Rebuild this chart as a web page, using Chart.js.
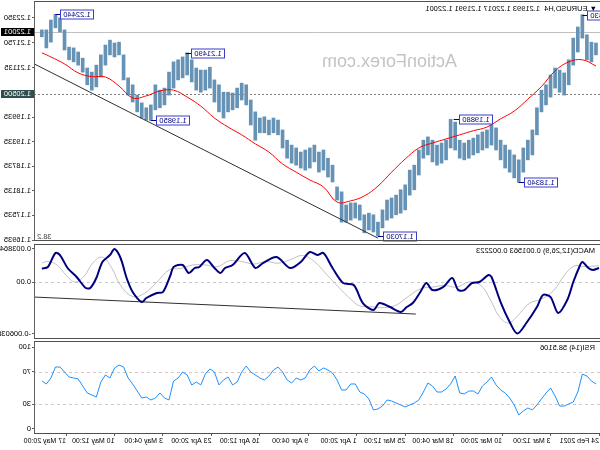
<!DOCTYPE html>
<html>
<head>
<meta charset="utf-8">
<script src="https://cdn.jsdelivr.net/npm/chart.js@4.4.1/dist/chart.umd.min.js"></script>
<style>
html, body { margin: 0; padding: 0; background: #fff; }
#wrap { position: relative; width: 600px; height: 450px; overflow: hidden; transform: scaleX(-1); background: #fff; }
#wrap canvas { position: absolute; left: 0; }
</style>
</head>
<body>
<div id="wrap">
  <canvas id="main" width="600" height="242" style="top:0px"></canvas>
  <canvas id="macd" width="600" height="97" style="top:242px"></canvas>
  <canvas id="rsi" width="600" height="111" style="top:339px"></canvas>
</div>
<script>
// time axis is counted in H4 bars from 24 Feb 2021 00:00
var tickBars = [0, 32, 64, 96, 128, 160, 192, 224, 256, 288, 320, 352];
var tickLabels = ["24 Feb 2021", "3 Mar 12:00", "10 Mar 20:00", "18 Mar 04:00", "25 Mar 12:00", "1 Apr 20:00",
    "9 Apr 04:00", "16 Apr 12:00", "23 Apr 20:00", "3 May 04:00", "10 May 12:00", "17 May 20:00"];

// EURUSD H4, one sample every 3rd bar starting at bar 2
var highs = [
    1.2174, 1.2176, 1.2194, 1.2243, 1.2213, 1.2186, 1.2133, 1.2101, 1.2108, 1.2113,
    1.2096, 1.2072, 1.2059, 1.2016, 1.1962, 1.1937, 1.1918, 1.1889, 1.1901, 1.1913,
    1.1925, 1.1937, 1.1967, 1.1974, 1.1962, 1.1957, 1.1950, 1.1942, 1.1937, 1.1930,
    1.1937, 1.1981, 1.1988, 1.1937, 1.1930, 1.1925, 1.1937, 1.1945, 1.1937, 1.1913,
    1.1876, 1.1864, 1.1828, 1.1816, 1.1803, 1.1796, 1.1791, 1.1767, 1.1737, 1.1755,
    1.1759, 1.1755, 1.1779, 1.1784, 1.1784, 1.1779, 1.1811, 1.1823, 1.1876, 1.1893,
    1.1913, 1.1908, 1.1925, 1.1918, 1.1913, 1.1908, 1.1918, 1.1925, 1.1937, 1.1962,
    1.1986, 1.1991, 1.1986, 1.1994, 1.1991, 1.2006, 1.2035, 1.2072, 1.2076, 1.2064,
    1.2052, 1.2054, 1.2054, 1.2072, 1.2084, 1.2115, 1.2108, 1.2108, 1.2113, 1.2133,
    1.2150, 1.2140, 1.2133, 1.2128, 1.2103, 1.2064, 1.2059, 1.2072, 1.2023, 1.2016,
    1.2028, 1.2047, 1.2072, 1.2089, 1.2145, 1.2176, 1.2174, 1.2181, 1.2169, 1.2145,
    1.2120, 1.2103, 1.2113, 1.2137, 1.2152, 1.2162, 1.2164, 1.2206, 1.2235, 1.2244,
    1.2230, 1.2206, 1.2206
];
var lows = [
    1.2145, 1.2128, 1.2133, 1.2186, 1.2152, 1.2120, 1.2072, 1.2047, 1.2054, 1.2064,
    1.2042, 1.2023, 1.2006, 1.1950, 1.1901, 1.1889, 1.1859, 1.1834, 1.1845, 1.1859,
    1.1869, 1.1889, 1.1913, 1.1925, 1.1918, 1.1913, 1.1906, 1.1901, 1.1893, 1.1889,
    1.1893, 1.1913, 1.1918, 1.1889, 1.1881, 1.1876, 1.1884, 1.1901, 1.1893, 1.1852,
    1.1816, 1.1803, 1.1767, 1.1759, 1.1755, 1.1747, 1.1742, 1.1723, 1.1703, 1.1713,
    1.1718, 1.1711, 1.1742, 1.1747, 1.1742, 1.1737, 1.1737, 1.1791, 1.1835, 1.1847,
    1.1864, 1.1859, 1.1884, 1.1869, 1.1864, 1.1869, 1.1876, 1.1881, 1.1893, 1.1918,
    1.1950, 1.1955, 1.1950, 1.1955, 1.1955, 1.1937, 1.1974, 1.2023, 1.2035, 1.2016,
    1.2011, 1.2006, 1.1991, 1.2006, 1.2030, 1.2064, 1.2059, 1.2054, 1.2059, 1.2079,
    1.2096, 1.2089, 1.2084, 1.2064, 1.2047, 1.2023, 1.2016, 1.2011, 1.1985, 1.1986,
    1.1991, 1.2006, 1.2030, 1.2047, 1.2084, 1.2145, 1.2140, 1.2145, 1.2120, 1.2091,
    1.2067, 1.2059, 1.2072, 1.2103, 1.2120, 1.2128, 1.2133, 1.2157, 1.2201, 1.2211,
    1.2176, 1.2162, 1.2189
];
var rsiValues = [
    54.9, 58.5, 64.6, 67.0, 45.1, 32.9, 30.5, 28.0, 28.0, 40.2,
    50.0, 43.9, 36.6, 29.3, 23.2, 25.6, 22.0, 17.1, 29.3, 37.8,
    43.9, 47.6, 53.7, 63.4, 57.3, 52.4, 42.7, 46.3, 46.3, 42.7,
    43.9, 64.6, 54.9, 48.8, 45.1, 45.1, 52.4, 56.1, 45.1, 35.4,
    31.7, 29.3, 26.8, 29.3, 31.7, 34.1, 35.4, 28.0, 24.4, 23.2,
    36.6, 42.7, 45.1, 54.9, 54.9, 47.6, 47.6, 59.8, 68.3, 72.0,
    74.4, 70.7, 76.8, 72.0, 62.2, 59.8, 62.2, 56.1, 59.8, 69.5,
    75.6, 72.0, 64.6, 59.8, 62.2, 65.9, 69.5, 76.8, 69.5, 57.3,
    53.7, 63.4, 59.8, 53.7, 69.5, 73.2, 67.1, 53.7, 57.3, 53.7,
    65.9, 69.5, 62.2, 58.5, 35.4, 37.8, 43.9, 37.8, 35.4, 39.0,
    37.8, 46.3, 54.9, 62.2, 75.6, 78.0, 74.4, 62.2, 65.9, 57.3,
    39.0, 41.5, 43.9, 52.4, 61.0, 62.2, 63.4, 69.5, 75.6, 75.6,
    62.2, 54.9, 58.5106
];

// red moving average, read at these bars
var maBars = [2, 11, 20, 29, 38, 47, 56, 65, 74, 83, 92, 101, 110, 119, 128, 137, 146, 155, 164, 173, 182,
    191, 200, 209, 218, 227, 236, 245, 254, 263, 272, 281, 290, 299, 308, 317, 326, 335, 344, 353, 362, 368];
var maValues = [1.2118, 1.2133, 1.2128, 1.2106, 1.2068, 1.2037, 1.2008, 1.1989, 1.1969, 1.1960, 1.1950,
    1.1940, 1.1930, 1.1918, 1.1891, 1.1859, 1.1825, 1.1801, 1.1789, 1.1786, 1.1823, 1.1840, 1.1859, 1.1879,
    1.1908, 1.1928, 1.1950, 1.1969, 1.1991, 1.2020, 1.2042, 1.2059, 1.2057, 1.2045, 1.2040, 1.2069, 1.2091,
    1.2092, 1.2101, 1.2123, 1.2140, 1.2150];

// MACD(12,26,9) main line
var macdBars = [0, 4, 7, 11, 13, 17, 21, 27, 32, 37, 41, 48, 54, 59, 65, 71, 73, 79, 84, 89, 93, 97, 103, 110,
    114, 118, 123, 127, 131, 138, 145, 149, 156, 162, 169, 176, 182, 186, 191, 197, 204, 213, 222, 227, 234,
    242, 247, 250, 254, 259, 264, 267, 271, 275, 281, 283, 288, 292, 299, 302, 308, 312, 316, 320, 323, 328,
    332, 336, 339, 345, 351, 356, 359, 364, 368];
var macdValues = [0.00164, 0.00141, 0.00164, 0.00234, 0.00176, 0.00000, -0.00211, -0.00363, -0.00176,
    -0.00152, -0.00293, -0.00480, -0.006038, -0.00468, -0.00234, 0.00059, 0.00082, 0.00000, -0.00012,
    -0.00094, -0.00094, 0.00047, -0.00059, -0.00094, -0.00012, -0.00117, -0.00246, -0.00293, -0.00351,
    -0.00293, -0.00246, -0.00328, -0.00246, -0.00035, -0.00012, 0.00164, 0.00340, 0.00316, 0.00351,
    0.00234, 0.00164, 0.00293, 0.00222, 0.00164, 0.00340, 0.00199, 0.00164, 0.00105, 0.00164, 0.00258,
    0.00176, 0.00164, 0.00105, 0.00199, 0.00176, 0.00082, -0.00117, -0.00129, -0.00187, -0.00234,
    -0.00117, 0.00047, 0.00281, 0.003864, 0.00316, 0.00234, 0.00047, -0.00070, -0.00070, 0.00059,
    0.00164, 0.00316, 0.00340, 0.00176, 0.001563];

// MACD signal line
var signalBars = [0, 10, 16, 22, 30, 38, 46, 54, 60, 66, 72, 78, 86, 94, 102, 110, 118, 126, 134, 142, 150,
    158, 164, 172, 180, 188, 196, 204, 212, 220, 228, 236, 244, 252, 260, 268, 276, 284, 292, 300, 308, 316,
    322, 328, 334, 340, 346, 352, 358, 364, 368];
var signalValues = [0.00190, 0.00180, 0.00190, 0.00100, -0.00100, -0.00200, -0.00250, -0.00400, -0.00480,
    -0.00400, -0.00200, -0.00040, 0.00000, -0.00060, -0.00040, -0.00060, -0.00080, -0.00170, -0.00270,
    -0.00300, -0.00290, -0.00280, -0.00200, -0.00060, 0.00090, 0.00240, 0.00310, 0.00260, 0.00220, 0.00240,
    0.00210, 0.00240, 0.00250, 0.00180, 0.00200, 0.00200, 0.00160, 0.00140, 0.00000, -0.00130, -0.00170,
    -0.00040, 0.00170, 0.00290, 0.00230, 0.00070, 0.00000, 0.00080, 0.00200, 0.00240, 0.002223];

// drawn trend lines [bar, value]
var priceTrend = [[146, 1.1698], [373, 1.2123]];
var macdTrend = [[121, -0.00375], [373, -0.00176]];

// swing high / low labels
var markBars = [11, 53, 96, 146, 273, 296, 359];
var markPrices = [1.2243, 1.1834, 1.1988, 1.1703, 1.2149, 1.1985, 1.2244];

var priceTicks = [1.22350, 1.21750, 1.21135, 1.19935, 1.19335, 1.18735, 1.18135, 1.17535, 1.16935];
var bidPrice = 1.22001;
var levelPrice = 1.20500;
var macdTicks = [0.003864, 0, -0.006038];
var rsiTicks = [100, 70, 30, 0];
var rsiLevels = [70, 30];

var FONT = '"Liberation Sans", Arial, sans-serif';
var xMin = -0.66, xMax = 372.5;

function pairs(xs, ys) {
    return xs.map(function (x, i) { return { x: x, y: ys[i] }; });
}
function sampleBar(i) { return 2 + 3 * i; }

function yAxis(min, max, ticks, fmt) {
    return {
        type: 'linear', position: 'right', min: min, max: max,
        afterBuildTicks: function (s) { s.ticks = ticks.map(function (v) { return { value: v }; }); },
        afterFit: function (s) { s.width = 35; s.paddingTop = 0; s.paddingBottom = 0; },
        grid: { drawOnChartArea: false, drawTicks: true, tickLength: 3, color: '#606060' },
        border: { display: true, color: '#606060' },
        ticks: { autoSkip: false, padding: 1, color: '#000', font: { family: FONT, size: 7.5 }, callback: fmt }
    };
}
function hiddenX() {
    return { type: 'linear', min: xMin, max: xMax, offset: false, display: false };
}
function baseOptions(pad, scales) {
    return {
        responsive: false, animation: false, events: [], devicePixelRatio: 1,
        layout: { padding: pad },
        scales: scales,
        plugins: { legend: { display: false }, tooltip: { enabled: false } }
    };
}

// panel top and bottom border
var frame = {
    id: 'frame',
    afterDraw: function (chart) {
        var ctx = chart.ctx, a = chart.chartArea;
        ctx.save();
        ctx.strokeStyle = '#505050';
        ctx.lineWidth = 1;
        ctx.beginPath();
        ctx.moveTo(0, a.top - 0.5); ctx.lineTo(a.right + 1, a.top - 0.5);
        ctx.moveTo(0, a.bottom + 0.5); ctx.lineTo(a.right + 1, a.bottom + 0.5);
        ctx.stroke();
        ctx.restore();
    }
};

function hline(ctx, a, y, color, dash) {
    ctx.strokeStyle = color;
    ctx.lineWidth = 1;
    ctx.setLineDash(dash);
    ctx.beginPath();
    ctx.moveTo(a.left, Math.round(y) + 0.5);
    ctx.lineTo(a.right, Math.round(y) + 0.5);
    ctx.stroke();
    ctx.setLineDash([]);
}

var mainDeco = {
    id: 'mainDeco',
    beforeDatasetsDraw: function (chart) {
        var ctx = chart.ctx, a = chart.chartArea, y = chart.scales.y;
        ctx.save();
        ctx.fillStyle = '#c4c4c4';
        ctx.font = '18px ' + FONT;
        ctx.textBaseline = 'middle';
        ctx.fillText('ActionForex.com', 143, 62);
        hline(ctx, a, y.getPixelForValue(bidPrice), '#c0c0c0', []);
        hline(ctx, a, y.getPixelForValue(levelPrice), '#808080', [2, 2]);
        ctx.restore();
    },
    afterDatasetsDraw: function (chart) {
        var ctx = chart.ctx, a = chart.chartArea, x = chart.scales.x, y = chart.scales.y;
        ctx.save();
        ctx.font = '7.5px ' + FONT;
        ctx.textBaseline = 'middle';
        markBars.forEach(function (b, i) {
            var px = x.getPixelForValue(b), py = Math.round(y.getPixelForValue(markPrices[i])) + 0.5;
            var txt = markPrices[i].toFixed(5);
            var w = Math.round(ctx.measureText(txt).width) + 6, h = 9;
            var bx = Math.round(px) - 6 - w + 0.5;
            ctx.strokeStyle = '#000080';
            ctx.beginPath();
            ctx.moveTo(px, py); ctx.lineTo(bx + w, py);
            ctx.stroke();
            ctx.fillStyle = '#fff';
            ctx.fillRect(bx, py - h / 2, w, h);
            ctx.strokeStyle = '#3c3cc8';
            ctx.strokeRect(bx, py - h / 2, w, h);
            ctx.fillStyle = '#000080';
            ctx.fillText(txt, bx + 3, py + 0.5);
        });
        ctx.fillStyle = '#000';
        ctx.fillText('\u25BC EURUSD,H4  1.21993 1.22017 1.21991 1.22001', 3, 9);
        ctx.fillStyle = '#404040';
        ctx.textAlign = 'right';
        ctx.fillText('38.2', a.right - 2, a.bottom - 3);
        ctx.restore();
    },
    afterDraw: function (chart) {
        var ctx = chart.ctx, a = chart.chartArea, y = chart.scales.y;
        ctx.save();
        ctx.font = '7.5px ' + FONT;
        ctx.textBaseline = 'middle';
        [[bidPrice, '#000000'], [levelPrice, '#2f4f4f']].forEach(function (t) {
            var py = Math.round(y.getPixelForValue(t[0]));
            ctx.fillStyle = t[1];
            ctx.fillRect(a.right + 1, py - 4, 33, 8);
            ctx.fillStyle = '#fff';
            ctx.fillText(t[0].toFixed(5), a.right + 4, py);
        });
        ctx.restore();
    }
};

var macdDeco = {
    id: 'macdDeco',
    beforeDatasetsDraw: function (chart) {
        var ctx = chart.ctx, a = chart.chartArea, y = chart.scales.y;
        ctx.save();
        hline(ctx, a, y.getPixelForValue(0), '#c8c8d0', [3, 3]);
        ctx.fillStyle = '#000';
        ctx.font = '7.5px ' + FONT;
        ctx.textBaseline = 'middle';
        ctx.fillText('MACD(12,26,9) 0.001563 0.002223', 5, a.top + 6);
        ctx.restore();
    }
};

var rsiDeco = {
    id: 'rsiDeco',
    beforeDatasetsDraw: function (chart) {
        var ctx = chart.ctx, a = chart.chartArea, y = chart.scales.y;
        ctx.save();
        rsiLevels.forEach(function (v) { hline(ctx, a, y.getPixelForValue(v), '#d8c4c4', [3, 3]); });
        ctx.fillStyle = '#000';
        ctx.font = '7.5px ' + FONT;
        ctx.textBaseline = 'middle';
        ctx.fillText('RSI(14) 58.5106', 5, a.top + 6);
        ctx.restore();
    }
};

var priceBars = highs.map(function (h, i) { return { x: sampleBar(i), y: [lows[i], h] }; });

new Chart(document.getElementById('main'), {
    type: 'bar',
    data: {
        datasets: [
            { type: 'line', data: pairs(maBars, maValues), borderColor: '#ff0000', borderWidth: 1,
              pointRadius: 0, tension: 0.4, order: 1 },
            { type: 'line', data: priceTrend.map(function (p) { return { x: p[0], y: p[1] }; }),
              borderColor: '#303030', borderWidth: 1, pointRadius: 0, order: 2 },
            { type: 'bar', data: priceBars, backgroundColor: '#6592b5', borderWidth: 0,
              barThickness: 3, grouped: false, order: 3 }
        ]
    },
    options: baseOptions({ top: 2, bottom: 2, left: 0, right: 0 }, {
        x: hiddenX(),
        y: yAxis(1.16935, 1.22740, priceTicks, function (v) { return v.toFixed(5); })
    }),
    plugins: [mainDeco, frame]
});

new Chart(document.getElementById('macd'), {
    type: 'line',
    data: {
        datasets: [
            { data: pairs(macdBars, macdValues), borderColor: '#000080', borderWidth: 2, pointRadius: 0, tension: 0.3 },
            { data: pairs(signalBars, signalValues), borderColor: '#c0c0c0', borderWidth: 1, pointRadius: 0, tension: 0.4 },
            { data: macdTrend.map(function (p) { return { x: p[0], y: p[1] }; }), borderColor: '#303030',
              borderWidth: 1, pointRadius: 0 }
        ]
    },
    options: baseOptions({ top: 3, bottom: 1, left: 0, right: 0 }, {
        x: hiddenX(),
        y: yAxis(-0.006553, 0.004332, macdTicks, function (v) { return v === 0 ? '0.00' : v.toFixed(6); })
    }),
    plugins: [macdDeco, frame]
});

new Chart(document.getElementById('rsi'), {
    type: 'line',
    data: {
        datasets: [
            { data: rsiValues.map(function (v, i) { return { x: sampleBar(i), y: v }; }),
              borderColor: '#1e90ff', borderWidth: 1, pointRadius: 0, tension: 0 }
        ]
    },
    options: baseOptions({ top: 3, bottom: 0, left: 0, right: 0 }, {
        x: {
            type: 'linear', min: xMin, max: xMax, offset: false,
            afterBuildTicks: function (s) { s.ticks = tickBars.map(function (v) { return { value: v }; }); },
            afterFit: function (s) { s.height = 17; s.paddingLeft = 0; s.paddingRight = 0; },
            grid: { drawOnChartArea: false, drawTicks: true, tickLength: 3, color: '#606060' },
            border: { display: true, color: '#505050' },
            ticks: {
                autoSkip: false, maxRotation: 0, minRotation: 0, align: 'start', padding: 1,
                color: '#000', font: { family: FONT, size: 7 },
                callback: function (v) { var k = tickBars.indexOf(v); return k < 0 ? '' : tickLabels[k]; }
            }
        },
        y: yAxis(-4.9, 106.1, rsiTicks, function (v) { return String(v); })
    }),
    plugins: [rsiDeco, frame]
});
</script>
</body>
</html>
